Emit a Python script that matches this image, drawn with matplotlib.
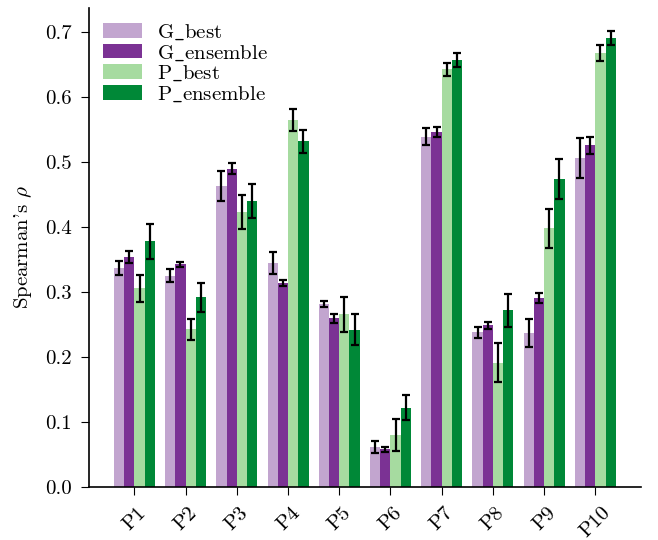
import numpy as np
import matplotlib
matplotlib.use('Agg')
import matplotlib.pyplot as plt

plt.rcParams['font.family'] = 'serif'
plt.rcParams['font.serif'] = ['cmr10']
plt.rcParams['mathtext.fontset'] = 'cm'
plt.rcParams['axes.unicode_minus'] = False
plt.rcParams['font.size'] = 15
plt.rcParams['xtick.major.size'] = 6
plt.rcParams['ytick.major.size'] = 6
plt.rcParams['xtick.major.pad'] = 6
plt.rcParams['ytick.major.pad'] = 6.5
plt.rcParams['axes.linewidth'] = 1.2

problems = ['P1', 'P2', 'P3', 'P4', 'P5', 'P6', 'P7', 'P8', 'P9', 'P10']
series = [r'G$\_$best', r'G$\_$ensemble', r'P$\_$best', r'P$\_$ensemble']
colors = ['#c2a5cf', '#7b3294', '#a6dba0', '#008837']

g_best = [0.337, 0.325, 0.463, 0.345, 0.282, 0.062, 0.539, 0.238, 0.237, 0.506]
g_ens = [0.354, 0.343, 0.490, 0.314, 0.260, 0.058, 0.546, 0.249, 0.291, 0.526]
p_best = [0.306, 0.243, 0.423, 0.565, 0.266, 0.080, 0.643, 0.191, 0.398, 0.668]
p_ens = [0.378, 0.292, 0.440, 0.532, 0.242, 0.122, 0.657, 0.272, 0.474, 0.691]

g_best_err = [0.011, 0.010, 0.023, 0.017, 0.005, 0.009, 0.013, 0.009, 0.021, 0.031]
g_ens_err = [0.009, 0.004, 0.008, 0.005, 0.007, 0.004, 0.008, 0.005, 0.008, 0.013]
p_best_err = [0.021, 0.016, 0.026, 0.017, 0.027, 0.024, 0.010, 0.030, 0.030, 0.013]
p_ens_err = [0.027, 0.022, 0.026, 0.018, 0.024, 0.019, 0.011, 0.025, 0.031, 0.011]

values = [g_best, g_ens, p_best, p_ens]
errors = [g_best_err, g_ens_err, p_best_err, p_ens_err]

fig = plt.figure(figsize=(6.58, 5.4), dpi=100)
ax = fig.add_axes([0.135, 0.098, 0.839, 0.887])

x = np.arange(len(problems))
w = 0.2
for i, (name, vals, errs, c) in enumerate(zip(series, values, errors, colors)):
    ax.bar(x + (i - 1.5) * w, vals, w, yerr=errs, color=c, label=name,
           error_kw=dict(ecolor='black', elinewidth=1.6, capsize=2.7, capthick=1.6))

ax.set_xticks(x)
ax.set_xticklabels(problems, rotation=45)
ax.set_ylabel(r"Spearman's $\rho$", labelpad=8)
ax.spines['top'].set_visible(False)
ax.spines['right'].set_visible(False)
ax.legend(loc='upper left', frameon=False, labelspacing=0.05,
          handlelength=1.85, handletextpad=0.7, borderaxespad=0.3)

fig.savefig('out.png', dpi=100)
